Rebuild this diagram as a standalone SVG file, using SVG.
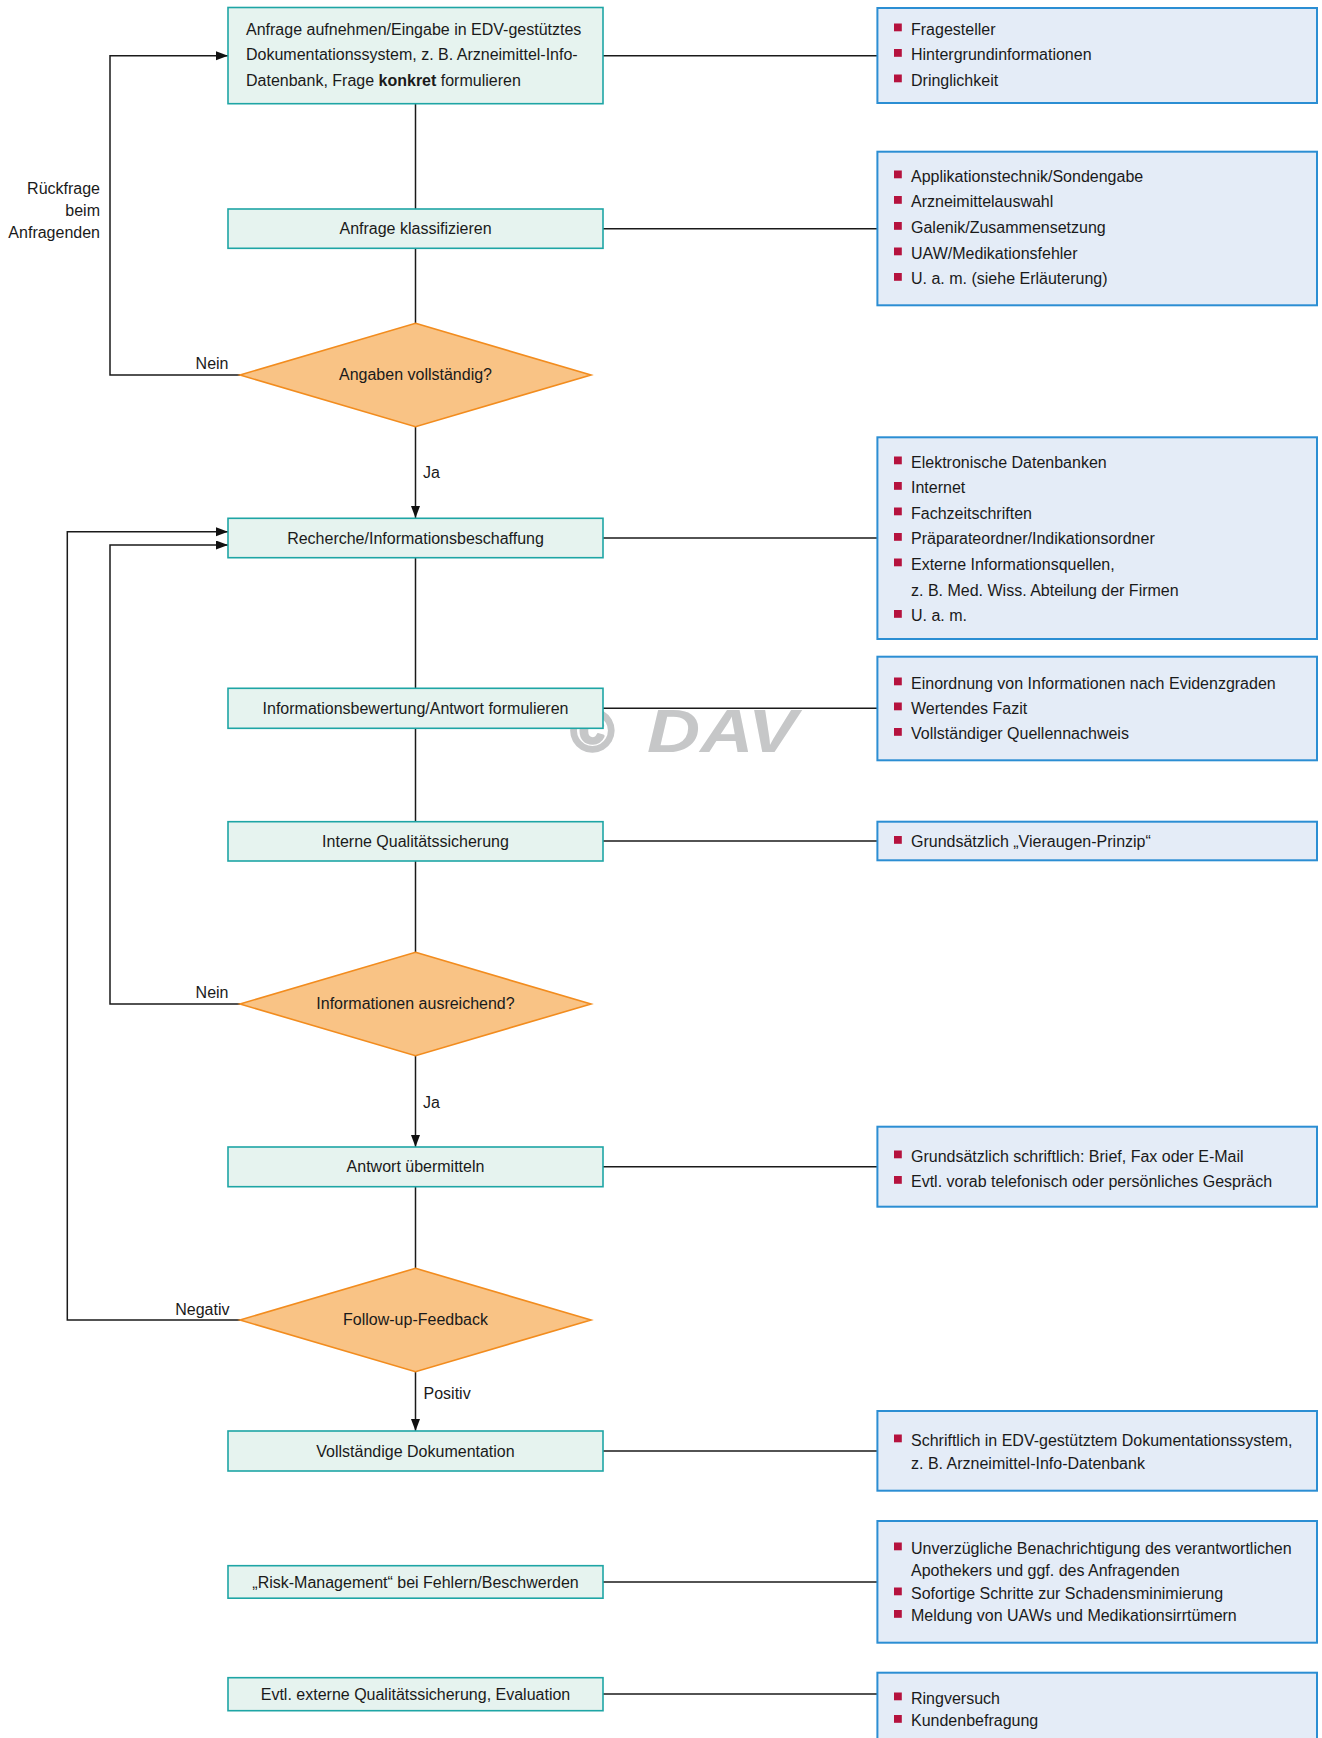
<svg xmlns="http://www.w3.org/2000/svg" width="1322" height="1738" viewBox="0 0 1322 1738">
<style>
.lbox{fill:#e6f3ef;stroke:#1ea5a5;stroke-width:1.6}
.rbox{fill:#e4ecf7;stroke:#2b8ed3;stroke-width:2}
.dia{fill:#f9c385;stroke:#f28c1e;stroke-width:1.6}
.t{font-family:"Liberation Sans",Arial,sans-serif;font-size:16px;fill:#1a1a1a}
.c{text-anchor:middle}
.r{text-anchor:end}
.b{font-weight:bold}
.bul{fill:#b5123e}
.ln{stroke:#1a1a1a;stroke-width:1.5;fill:none}
.wm{font-family:"Liberation Sans",Arial,sans-serif;font-weight:bold;fill:#c6c7c8}
</style>
<defs>
<marker id="arr" markerUnits="userSpaceOnUse" markerWidth="13" markerHeight="10" refX="12" refY="4.5" orient="auto">
<path d="M0,0 L12,4.5 L0,9 z" fill="#111"/>
</marker>
</defs>
<rect width="1322" height="1738" fill="#ffffff"/>

<g id="watermark">
<text class="wm" x="571" y="751" font-size="58" stroke="#c6c7c8" stroke-width="3.5" stroke-linejoin="round">©</text>
<text class="wm" x="647" y="752" font-size="62" font-style="italic" textLength="150" lengthAdjust="spacingAndGlyphs">DAV</text>
</g>

<g id="connectors">
<line class="ln" x1="415.5" y1="103.7" x2="415.5" y2="209"/>
<line class="ln" x1="415.5" y1="248.3" x2="415.5" y2="323.3"/>
<line class="ln" x1="415.5" y1="426.7" x2="415.5" y2="518" marker-end="url(#arr)"/>
<line class="ln" x1="415.5" y1="557.7" x2="415.5" y2="688.3"/>
<line class="ln" x1="415.5" y1="728.3" x2="415.5" y2="821.7"/>
<line class="ln" x1="415.5" y1="861" x2="415.5" y2="952.3"/>
<line class="ln" x1="415.5" y1="1055.7" x2="415.5" y2="1147" marker-end="url(#arr)"/>
<line class="ln" x1="415.5" y1="1186.7" x2="415.5" y2="1268.3"/>
<line class="ln" x1="415.5" y1="1371.7" x2="415.5" y2="1431" marker-end="url(#arr)"/>
<polyline class="ln" points="240,375 110,375 110,55.7 228,55.7" marker-end="url(#arr)"/>
<polyline class="ln" points="240,1004 110,1004 110,545 228,545" marker-end="url(#arr)"/>
<polyline class="ln" points="240,1320 67.3,1320 67.3,531.7 228,531.7" marker-end="url(#arr)"/>
<line class="ln" x1="603" y1="55.7" x2="877" y2="55.7"/>
<line class="ln" x1="603" y1="228.7" x2="877" y2="228.7"/>
<line class="ln" x1="603" y1="538" x2="877" y2="538"/>
<line class="ln" x1="603" y1="708.3" x2="877" y2="708.3"/>
<line class="ln" x1="603" y1="841" x2="877" y2="841"/>
<line class="ln" x1="603" y1="1166.7" x2="877" y2="1166.7"/>
<line class="ln" x1="603" y1="1451" x2="877" y2="1451"/>
<line class="ln" x1="603" y1="1582" x2="877" y2="1582"/>
<line class="ln" x1="603" y1="1694" x2="877" y2="1694"/>
<text class="t r" x="228.5" y="369">Nein</text>
<text class="t r" x="228.5" y="997.5">Nein</text>
<text class="t r" x="229.5" y="1315">Negativ</text>
<text class="t" x="423" y="478">Ja</text>
<text class="t" x="423" y="1107.5">Ja</text>
<text class="t" x="423.5" y="1399">Positiv</text>
<text class="t r" x="100" y="193.5">Rückfrage</text>
<text class="t r" x="100" y="215.8">beim</text>
<text class="t r" x="100" y="238">Anfragenden</text>
</g>

<g id="n1">
<rect class="lbox" x="228" y="7.5" width="375" height="96.2"/>
<text class="t" x="246" y="34.5">Anfrage aufnehmen/Eingabe in EDV-gestütztes</text>
<text class="t" x="246" y="60">Dokumentationssystem, z. B. Arzneimittel-Info-</text>
<text class="t" x="246" y="85.5">Datenbank, Frage <tspan class="b">konkret</tspan> formulieren</text>
</g>
<g id="n2">
<rect class="lbox" x="228" y="209" width="375" height="39.3"/>
<text class="t c" x="415.5" y="233.5">Anfrage klassifizieren</text>
</g>
<g id="d1">
<polygon class="dia" points="415.5,323.3 591,375 415.5,426.7 240,375"/>
<text class="t c" x="415.5" y="380">Angaben vollständig?</text>
</g>
<g id="n3">
<rect class="lbox" x="228" y="518.3" width="375" height="39.4"/>
<text class="t c" x="415.5" y="544">Recherche/Informationsbeschaffung</text>
</g>
<g id="n4">
<rect class="lbox" x="228" y="688.3" width="375" height="40"/>
<text class="t c" x="415.5" y="714">Informationsbewertung/Antwort formulieren</text>
</g>
<g id="n5">
<rect class="lbox" x="228" y="821.7" width="375" height="39.3"/>
<text class="t c" x="415.5" y="847">Interne Qualitätssicherung</text>
</g>
<g id="d2">
<polygon class="dia" points="415.5,952.3 591,1004 415.5,1055.7 240,1004"/>
<text class="t c" x="415.5" y="1008.5">Informationen ausreichend?</text>
</g>
<g id="n6">
<rect class="lbox" x="228" y="1147" width="375" height="39.7"/>
<text class="t c" x="415.5" y="1172">Antwort übermitteln</text>
</g>
<g id="d3">
<polygon class="dia" points="415.5,1268.3 591,1320 415.5,1371.7 240,1320"/>
<text class="t c" x="415.5" y="1325">Follow-up-Feedback</text>
</g>
<g id="n7">
<rect class="lbox" x="228" y="1431" width="375" height="40"/>
<text class="t c" x="415.5" y="1456.5">Vollständige Dokumentation</text>
</g>
<g id="n8">
<rect class="lbox" x="228" y="1565.7" width="375" height="32.5"/>
<text class="t c" x="415.5" y="1587.5">„Risk-Management“ bei Fehlern/Beschwerden</text>
</g>
<g id="n9">
<rect class="lbox" x="228" y="1677.7" width="375" height="33"/>
<text class="t c" x="415.5" y="1700">Evtl. externe Qualitätssicherung, Evaluation</text>
</g>

<g id="rA">
<rect class="rbox" x="877.4" y="8" width="439.6" height="95"/>
<rect class="bul" x="894" y="23.5" width="7.8" height="7.8"/><text class="t" x="911" y="34.5">Fragesteller</text>
<rect class="bul" x="894" y="49" width="7.8" height="7.8"/><text class="t" x="911" y="60">Hintergrundinformationen</text>
<rect class="bul" x="894" y="74.5" width="7.8" height="7.8"/><text class="t" x="911" y="85.5">Dringlichkeit</text>
</g>
<g id="rB">
<rect class="rbox" x="877.4" y="151.7" width="439.6" height="153.6"/>
<rect class="bul" x="894" y="170.5" width="7.8" height="7.8"/><text class="t" x="911" y="181.5">Applikationstechnik/Sondengabe</text>
<rect class="bul" x="894" y="196" width="7.8" height="7.8"/><text class="t" x="911" y="207">Arzneimittelauswahl</text>
<rect class="bul" x="894" y="222" width="7.8" height="7.8"/><text class="t" x="911" y="233">Galenik/Zusammensetzung</text>
<rect class="bul" x="894" y="247.5" width="7.8" height="7.8"/><text class="t" x="911" y="258.5">UAW/Medikationsfehler</text>
<rect class="bul" x="894" y="273" width="7.8" height="7.8"/><text class="t" x="911" y="284">U. a. m. (siehe Erläuterung)</text>
</g>
<g id="rC">
<rect class="rbox" x="877.4" y="437.3" width="439.6" height="201.7"/>
<rect class="bul" x="894" y="456.5" width="7.8" height="7.8"/><text class="t" x="911" y="467.5">Elektronische Datenbanken</text>
<rect class="bul" x="894" y="482" width="7.8" height="7.8"/><text class="t" x="911" y="493">Internet</text>
<rect class="bul" x="894" y="507.5" width="7.8" height="7.8"/><text class="t" x="911" y="518.5">Fachzeitschriften</text>
<rect class="bul" x="894" y="533" width="7.8" height="7.8"/><text class="t" x="911" y="544">Präparateordner/Indikationsordner</text>
<rect class="bul" x="894" y="558.5" width="7.8" height="7.8"/><text class="t" x="911" y="569.5">Externe Informationsquellen,</text>
<text class="t" x="911" y="595.5">z. B. Med. Wiss. Abteilung der Firmen</text>
<rect class="bul" x="894" y="610" width="7.8" height="7.8"/><text class="t" x="911" y="621">U. a. m.</text>
</g>
<g id="rD">
<rect class="rbox" x="877.4" y="656.7" width="439.6" height="103.6"/>
<rect class="bul" x="894" y="677.5" width="7.8" height="7.8"/><text class="t" x="911" y="688.5">Einordnung von Informationen nach Evidenzgraden</text>
<rect class="bul" x="894" y="702.5" width="7.8" height="7.8"/><text class="t" x="911" y="713.5">Wertendes Fazit</text>
<rect class="bul" x="894" y="728" width="7.8" height="7.8"/><text class="t" x="911" y="739">Vollständiger Quellennachweis</text>
</g>
<g id="rE">
<rect class="rbox" x="877.4" y="821.7" width="439.6" height="38.6"/>
<rect class="bul" x="894" y="836" width="7.8" height="7.8"/><text class="t" x="911" y="847">Grundsätzlich „Vieraugen-Prinzip“</text>
</g>
<g id="rF">
<rect class="rbox" x="877.4" y="1126.7" width="439.6" height="80"/>
<rect class="bul" x="894" y="1150.5" width="7.8" height="7.8"/><text class="t" x="911" y="1161.5">Grundsätzlich schriftlich: Brief, Fax oder E-Mail</text>
<rect class="bul" x="894" y="1176" width="7.8" height="7.8"/><text class="t" x="911" y="1187">Evtl. vorab telefonisch oder persönliches Gespräch</text>
</g>
<g id="rG">
<rect class="rbox" x="877.4" y="1411" width="439.6" height="79.7"/>
<rect class="bul" x="894" y="1434.5" width="7.8" height="7.8"/><text class="t" x="911" y="1445.5">Schriftlich in EDV-gestütztem Dokumentationssystem,</text>
<text class="t" x="911" y="1468.5">z. B. Arzneimittel-Info-Datenbank</text>
</g>
<g id="rH">
<rect class="rbox" x="877.4" y="1521" width="439.6" height="121.7"/>
<rect class="bul" x="894" y="1542.5" width="7.8" height="7.8"/><text class="t" x="911" y="1553.5">Unverzügliche Benachrichtigung des verantwortlichen</text>
<text class="t" x="911" y="1576">Apothekers und ggf. des Anfragenden</text>
<rect class="bul" x="894" y="1587.5" width="7.8" height="7.8"/><text class="t" x="911" y="1598.5">Sofortige Schritte zur Schadensminimierung</text>
<rect class="bul" x="894" y="1610" width="7.8" height="7.8"/><text class="t" x="911" y="1621">Meldung von UAWs und Medikationsirrtümern</text>
</g>
<g id="rI">
<rect class="rbox" x="877.4" y="1672.7" width="439.6" height="80"/>
<rect class="bul" x="894" y="1692.5" width="7.8" height="7.8"/><text class="t" x="911" y="1703.5">Ringversuch</text>
<rect class="bul" x="894" y="1715" width="7.8" height="7.8"/><text class="t" x="911" y="1726">Kundenbefragung</text>
</g>
</svg>
